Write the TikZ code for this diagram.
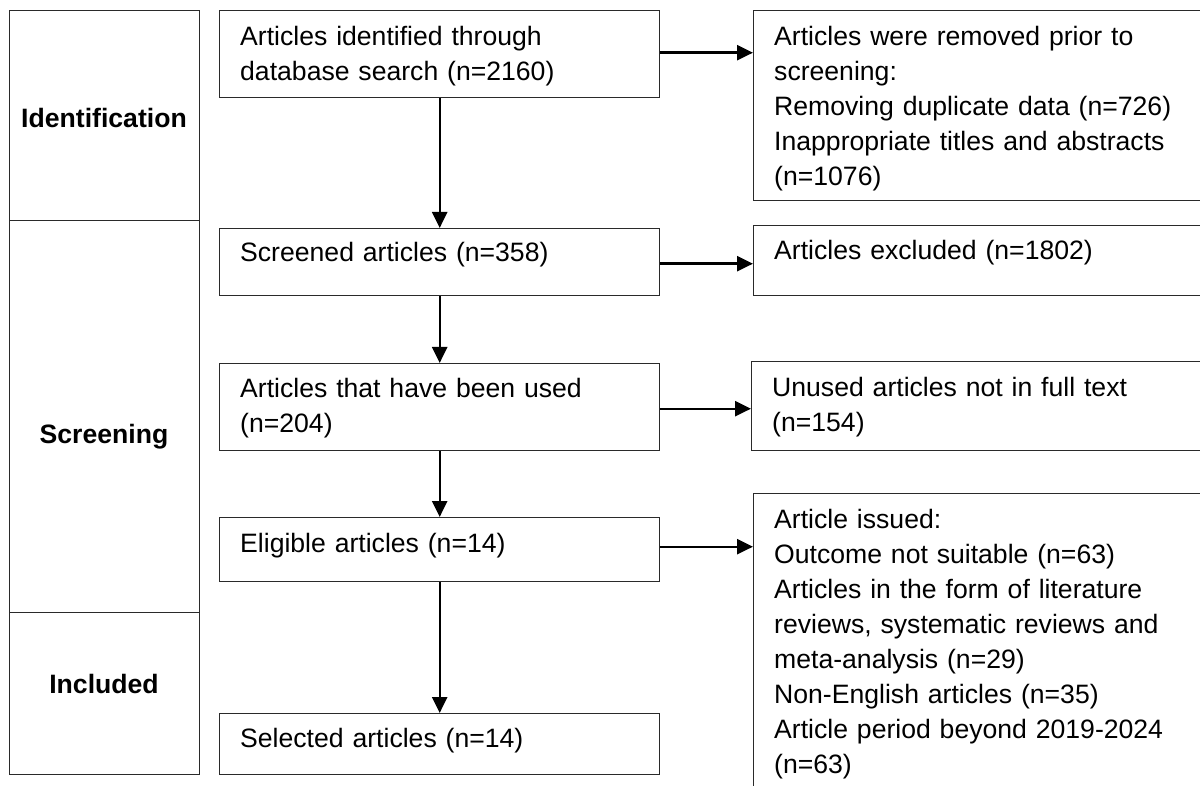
\documentclass[tikz,border=0pt]{standalone}
\usepackage{fontspec}
\setmainfont{Liberation Sans}
\usetikzlibrary{arrows.meta}
\definecolor{edge}{HTML}{2A2A2A}
\tikzset{
  box/.style={draw=edge, line width=1.4pt, inner sep=0pt, anchor=north west, rectangle},
  txt/.style={anchor=base west, inner sep=0pt, align=left, text width=430pt,
              font=\fontsize{26.6}{35}\selectfont},
  stage/.style={anchor=base, inner sep=0pt, font=\fontsize{26.6}{35}\selectfont\bfseries},
  arr/.style={line width=2.4pt, -{Triangle[length=16pt,width=15pt]}}
}
\begin{document}
\begin{tikzpicture}[x=1pt,y=-1pt]
\useasboundingbox (0,0) rectangle (1200,786);
\clip (0,0) rectangle (1200,786);
% stage column
\node[box, minimum width=190pt, minimum height=210pt] (s1) at (9,10) {};
\node[box, minimum width=190pt, minimum height=392pt] (s2) at (9,220) {};
\node[box, minimum width=190pt, minimum height=162pt] (s3) at (9,612) {};
\node[stage] (l1) at (104,128) {Identification};
\node[stage] (l2) at (104,443) {Screening};
\node[stage] (l3) at (104,693) {Included};
% middle boxes
\node[box, minimum width=440pt, minimum height=87pt] (b1) at (219,10) {};
\node[box, minimum width=440pt, minimum height=67pt] (b2) at (219,228) {};
\node[box, minimum width=440pt, minimum height=87pt] (b3) at (219,363) {};
\node[box, minimum width=440pt, minimum height=64pt] (b4) at (219,517) {};
\node[box, minimum width=440pt, minimum height=61pt] (b5) at (219,713) {};
\node[txt] (t1) at (240,46) {Articles identified through\\database search (n=2160)};
\node[txt] (t2) at (240,262) {Screened articles (n=358)};
\node[txt] (t3) at (240,398) {Articles that have been used\\(n=204)};
\node[txt] (t4) at (240,552) {Eligible articles (n=14)};
\node[txt] (t5) at (240,747) {Selected articles (n=14)};
% right boxes
\node[box, minimum width=470pt, minimum height=190pt] (r1) at (753,10) {};
\node[box, minimum width=470pt, minimum height=70pt] (r2) at (753,225) {};
\node[box, minimum width=470pt, minimum height=89pt] (r3) at (751,361) {};
\node[box, minimum width=470pt, minimum height=320pt] (r4) at (753,493) {};
\node[txt] (u1) at (774,46) {Articles were removed prior to\\screening:\\Removing duplicate data (n=726)\\Inappropriate titles and abstracts\\(n=1076)};
\node[txt] (u2) at (774,260) {Articles excluded (n=1802)};
\node[txt] (u3) at (772,396) {Unused articles not in full text\\(n=154)};
\node[txt] (u4) at (774,528) {Article issued:\\Outcome not suitable (n=63)\\Articles in the form of literature\\reviews, systematic reviews and\\meta-analysis (n=29)\\Non-English articles (n=35)\\Article period beyond 2019-2024\\(n=63)};
% vertical arrows
\draw[arr] (b1.south) -- (b2.north);
\draw[arr] (b2.south) -- (b3.north);
\draw[arr] (b3.south) -- (b4.north);
\draw[arr] (b4.south) -- (b5.north);
% horizontal arrows
\draw[arr] ([yshift=1.5pt]b1.east) -- ([yshift=1.5pt]b1.east -| r1.west);
\draw[arr] ([yshift=-1.5pt]b2.east) -- ([yshift=-1.5pt]b2.east -| r2.west);
\draw[arr] ([yshift=-1.5pt]b3.east) -- ([yshift=-1.5pt]b3.east -| r3.west);
\draw[arr] ([yshift=3pt]b4.east) -- ([yshift=3pt]b4.east -| r4.west);
\end{tikzpicture}
\end{document}
